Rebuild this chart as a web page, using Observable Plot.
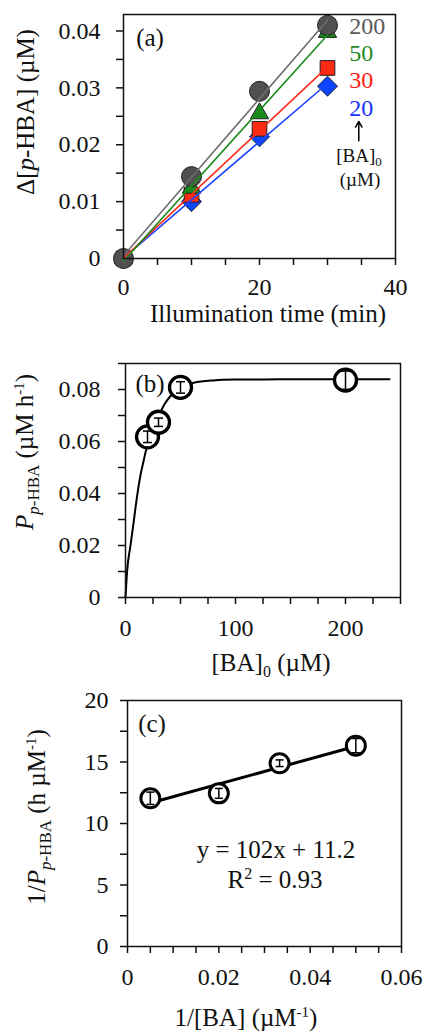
<!DOCTYPE html>
<html>
<head>
<meta charset="utf-8">
<script src="https://cdn.jsdelivr.net/npm/d3@7"></script>
<script src="https://cdn.jsdelivr.net/npm/@observablehq/plot@0.6"></script>
<style>
  body { margin: 0; background: #fff; }
  #wrap { position: relative; width: 424px; height: 1033px; overflow: hidden; background: #fff; }
  #wrap > div { position: absolute; left: 0; }
  #wrap svg, #wrap svg g, #wrap svg text { font-family: "Liberation Serif", "Times New Roman", Times, serif !important; }
  #wrap svg g[aria-label*="axis"] path, #wrap svg g[aria-label*="axis"] line { stroke-width: 1.5px; }
</style>
</head>
<body>
<div id="wrap">
  <div id="pa" style="top:0px"></div>
  <div id="pb" style="top:330px"></div>
  <div id="pc" style="top:680px"></div>
</div>
<script>
// ---------- Panel (a): Δ[p-HBA] vs illumination time ----------
const timeMin = [0, 10, 20, 30];
const baSeries = ["20", "30", "50", "200"];       // [BA]0 (µM)
const dHBA_20  = [0, 0.0100, 0.0214, 0.0303];
const dHBA_30  = [0, 0.0112, 0.0228, 0.0335];
const dHBA_50  = [0, 0.0124, 0.0255, 0.0398];
const dHBA_200 = [0, 0.0144, 0.0294, 0.0410];
const aTicksX = [0, 5, 10, 15, 20, 25, 30, 35, 40];
const aLabelsX = [0, 20, 40];
const aTicksY = [0, 0.005, 0.01, 0.015, 0.02, 0.025, 0.03, 0.035, 0.04];
const aLabelsY = [0, 0.01, 0.02, 0.03, 0.04];

// ---------- Panel (b): rate vs [BA]0 ----------
const baConc = [20, 30, 50, 200];
const rateP = [0.0618, 0.0674, 0.0808, 0.0836];
const rateErr = [0.0022, 0.0016, 0.0022, 0.0035];
const fitBA = [0, 1.5, 4.5, 7.6, 10.6, 13.6, 16.7, 19.7, 24, 29.4, 35, 40.9, 50, 62, 80, 100, 140, 200, 240];
const fitP  = [0, 0.0103, 0.0199, 0.0296, 0.0392, 0.0470, 0.0530, 0.0585, 0.0640, 0.0688, 0.0740, 0.0775, 0.0806, 0.0826, 0.0835, 0.0838, 0.0839, 0.0839, 0.0839];
const bTicksX = [0, 25, 50, 75, 100, 125, 150, 175, 200, 225, 250];
const bLabelsX = [0, 100, 200];
const bTicksY = [0, 0.01, 0.02, 0.03, 0.04, 0.05, 0.06, 0.07, 0.08, 0.09];
const bLabelsY = [0, 0.02, 0.04, 0.06, 0.08];

// ---------- Panel (c): double reciprocal ----------
const invBA = [0.005, 0.02, 0.0333, 0.05];
const invP = [12.05, 12.45, 14.9, 16.33];
const invErr = [0.5, 0.4, 0.27, 0.58];
const cTicksX = [0, 0.005, 0.01, 0.015, 0.02, 0.025, 0.03, 0.035, 0.04, 0.045, 0.05, 0.055, 0.06];
const cLabelsX = [0, 0.02, 0.04, 0.06];
const cTicksY = [0, 2.5, 5, 7.5, 10, 12.5, 15, 17.5, 20];
const cLabelsY = [0, 5, 10, 15, 20];

// ---------- styles ----------
const FONT = "'Liberation Serif','Times New Roman',Times,serif";
const W = 424;
const seriesStyle = {
  "20":  {symbol: "diamond2", r: 9,   fill: "#0a46ff", line: "#1e46ff", text: "#1a33ff"},
  "30":  {symbol: "square",   r: 8.3, fill: "#ff2a12", line: "#ff2b1b", text: "#ff2010"},
  "50":  {symbol: "triangle", r: 6.8, fill: "#1a8a1a", line: "#1e8c1e", text: "#1f8a1f"},
  "200": {symbol: "circle",   r: 10,  fill: "#505050", line: "#6d6d6d", text: "#5a5a5a"}
};
const seriesLabelY = {"200": 0.0409, "50": 0.0361, "30": 0.03127, "20": 0.02643};

const near = (arr) => d => arr.some(v => Math.abs(v - d) < 1e-9) ? (d === 0 ? "0" : String(+d.toFixed(6))) : "";
const capSymbol = { draw(ctx, size) { const r = Math.sqrt(size / Math.PI); ctx.moveTo(-r, 0); ctx.lineTo(r, 0); } };

function rich(svg, x, y, parts, o = {}) {
  const t = d3.select(svg).append("text")
    .attr("x", x).attr("y", y)
    .attr("text-anchor", o.anchor || "middle")
    .attr("fill", o.fill || "#111")
    .style("font-size", (o.size || 25) + "px");
  if (o.rotate) t.attr("transform", `rotate(-90 ${x} ${y})`);
  let shift = 0;
  for (const p of parts) {
    const target = p.sub ? (p.shift || 6) : p.sup ? -(p.shift || 9) : 0;
    const s = t.append("tspan").text(p.t);
    if (target !== shift) s.attr("dy", target - shift);
    shift = target;
    if (p.i) s.style("font-style", "italic");
    if (p.sub || p.sup) s.style("font-size", (p.fs || 16) + "px");
  }
  return t;
}

const baseStyle = {fontFamily: FONT, fontSize: "24px", background: "white", color: "#111"};

// ---------- build panel (a) ----------
const seriesVals = {"20": dHBA_20, "30": dHBA_30, "50": dHBA_50, "200": dHBA_200};
const aData = baSeries.flatMap(s => timeMin.map((t, j) => ({t, v: seriesVals[s][j], s})));
const aLabels = baSeries.map(s => ({s, x: 33.2, y: seriesLabelY[s]}));
const arrowData = [{x: 34.6, y1: 0.0207, y2: 0.0241}];

const aMarks = [];
for (const s of baSeries) {
  const st = seriesStyle[s];
  aMarks.push(Plot.dot(aData.filter(d => d.s === s), {x: "t", y: "v", symbol: () => st.symbol, r: st.r, fill: st.fill, stroke: "#222", strokeWidth: 1}));
}
for (const s of baSeries) {
  aMarks.push(Plot.linearRegressionY(aData.filter(d => d.s === s), {x: "t", y: "v", stroke: seriesStyle[s].line, strokeWidth: 1.6, ci: 0}));
}
aMarks.push(Plot.text(aLabels, {x: "x", y: "y", text: "s", fill: d => seriesStyle[d.s].text, textAnchor: "start", fontSize: 24}));
aMarks.push(Plot.arrow(arrowData, {x1: "x", x2: "x", y1: "y1", y2: "y2", stroke: "#000", strokeWidth: 1.5, headLength: 7}));
aMarks.push(Plot.frame({stroke: "#111", strokeWidth: 1.5}));

const pa = Plot.plot({
  width: W, height: 330,
  marginTop: 14, marginBottom: 72, marginLeft: 123, marginRight: 29,
  style: baseStyle,
  symbol: {type: "identity"},
  color: {type: "identity"},
  x: {domain: [0, 40], ticks: aTicksX, tickFormat: near(aLabelsX), tickSize: 7, tickPadding: 12, label: null},
  y: {domain: [0, 0.0429], ticks: aTicksY, tickFormat: near(aLabelsY), tickSize: 7, tickPadding: 16, label: null},
  marks: aMarks
});
document.getElementById("pa").appendChild(pa);
rich(pa, 150, 46, [{t: "(a)"}], {size: 25});
rich(pa, 34, 112, [{t: "Δ["}, {t: "p", i: true}, {t: "-HBA] (µM)"}], {rotate: true, size: 25});
rich(pa, 268, 322, [{t: "Illumination time (min)"}], {size: 25});
rich(pa, 359, 162, [{t: "[BA]"}, {t: "0", sub: true, fs: 13, shift: 4}], {size: 19});
rich(pa, 360, 186, [{t: "(µM)"}], {size: 19});

// ---------- build panel (b) ----------
const bData = baConc.map((x, i) => ({x, y: rateP[i], lo: rateP[i] - rateErr[i], hi: rateP[i] + rateErr[i]}));
const fitData = fitBA.map((x, i) => ({x, y: fitP[i]}));
const pb = Plot.plot({
  width: W, height: 350,
  marginTop: 33, marginBottom: 83, marginLeft: 125, marginRight: 24,
  style: baseStyle,
  x: {domain: [0, 250], ticks: bTicksX, tickFormat: near(bLabelsX), tickSize: 7, tickPadding: 14, label: null},
  y: {domain: [0, 0.09], ticks: bTicksY, tickFormat: near(bLabelsY), tickSize: 7, tickPadding: 18, label: null},
  marks: [
    Plot.line(fitData, {x: "x", y: "y", curve: "monotone-x", stroke: "#000", strokeWidth: 2}),
    Plot.dot(bData, {x: "x", y: "y", r: 11, fill: "white", stroke: "#000", strokeWidth: 3.3}),
    Plot.ruleX(bData, {x: "x", y1: "lo", y2: "hi", stroke: "#000", strokeWidth: 1.5}),
    Plot.dot(bData, {x: "x", y: "lo", symbol: capSymbol, r: 4.5, stroke: "#000", strokeWidth: 1.5}),
    Plot.dot(bData, {x: "x", y: "hi", symbol: capSymbol, r: 4.5, stroke: "#000", strokeWidth: 1.5}),
    Plot.frame({stroke: "#111", strokeWidth: 1.5})
  ]
});
document.getElementById("pb").appendChild(pb);
rich(pb, 150, 62, [{t: "(b)"}], {size: 25});
rich(pb, 33, 122, [{t: "P", i: true}, {t: "p", i: true, sub: true, fs: 17}, {t: "-HBA", sub: true, fs: 17}, {t: " (µM h"}, {t: "-1", sup: true, fs: 15}, {t: ")"}], {rotate: true, size: 25});
rich(pb, 271, 341, [{t: "[BA]"}, {t: "0", sub: true, fs: 16}, {t: " (µM)"}], {size: 25});

// ---------- build panel (c) ----------
const cData = invBA.map((x, i) => ({x, y: invP[i], lo: invP[i] - invErr[i], hi: invP[i] + invErr[i]}));
const pc = Plot.plot({
  width: W, height: 353,
  marginTop: 20, marginBottom: 87, marginLeft: 127, marginRight: 23,
  style: baseStyle,
  x: {domain: [0, 0.06], ticks: cTicksX, tickFormat: near(cLabelsX), tickSize: 7, tickPadding: 14, label: null},
  y: {domain: [0, 20], ticks: cTicksY, tickFormat: near(cLabelsY), tickSize: 7, tickPadding: 12, label: null},
  marks: [
    Plot.linearRegressionY(cData, {x: "x", y: "y", stroke: "#000", strokeWidth: 3, ci: 0}),
    Plot.dot(cData, {x: "x", y: "y", r: 9.5, fill: "white", stroke: "#000", strokeWidth: 3}),
    Plot.ruleX(cData, {x: "x", y1: "lo", y2: "hi", stroke: "#000", strokeWidth: 1.5}),
    Plot.dot(cData, {x: "x", y: "lo", symbol: capSymbol, r: 4, stroke: "#000", strokeWidth: 1.5}),
    Plot.dot(cData, {x: "x", y: "hi", symbol: capSymbol, r: 4, stroke: "#000", strokeWidth: 1.5}),
    Plot.frame({stroke: "#111", strokeWidth: 1.5})
  ]
});
document.getElementById("pc").appendChild(pc);
rich(pc, 152, 52, [{t: "(c)"}], {size: 25});
rich(pc, 276, 178, [{t: "y = 102x + 11.2"}], {size: 25});
rich(pc, 275, 208, [{t: "R"}, {t: "2", sup: true, fs: 16}, {t: " = 0.93"}], {size: 25});
rich(pc, 45, 137, [{t: "1/"}, {t: "P", i: true}, {t: "p", i: true, sub: true, fs: 17}, {t: "-HBA", sub: true, fs: 17}, {t: " (h µM"}, {t: "-1", sup: true, fs: 15}, {t: ")"}], {rotate: true, size: 25});
rich(pc, 246, 346, [{t: "1/[BA] (µM"}, {t: "-1", sup: true, fs: 15}, {t: ")"}], {size: 25});
</script>
</body>
</html>
